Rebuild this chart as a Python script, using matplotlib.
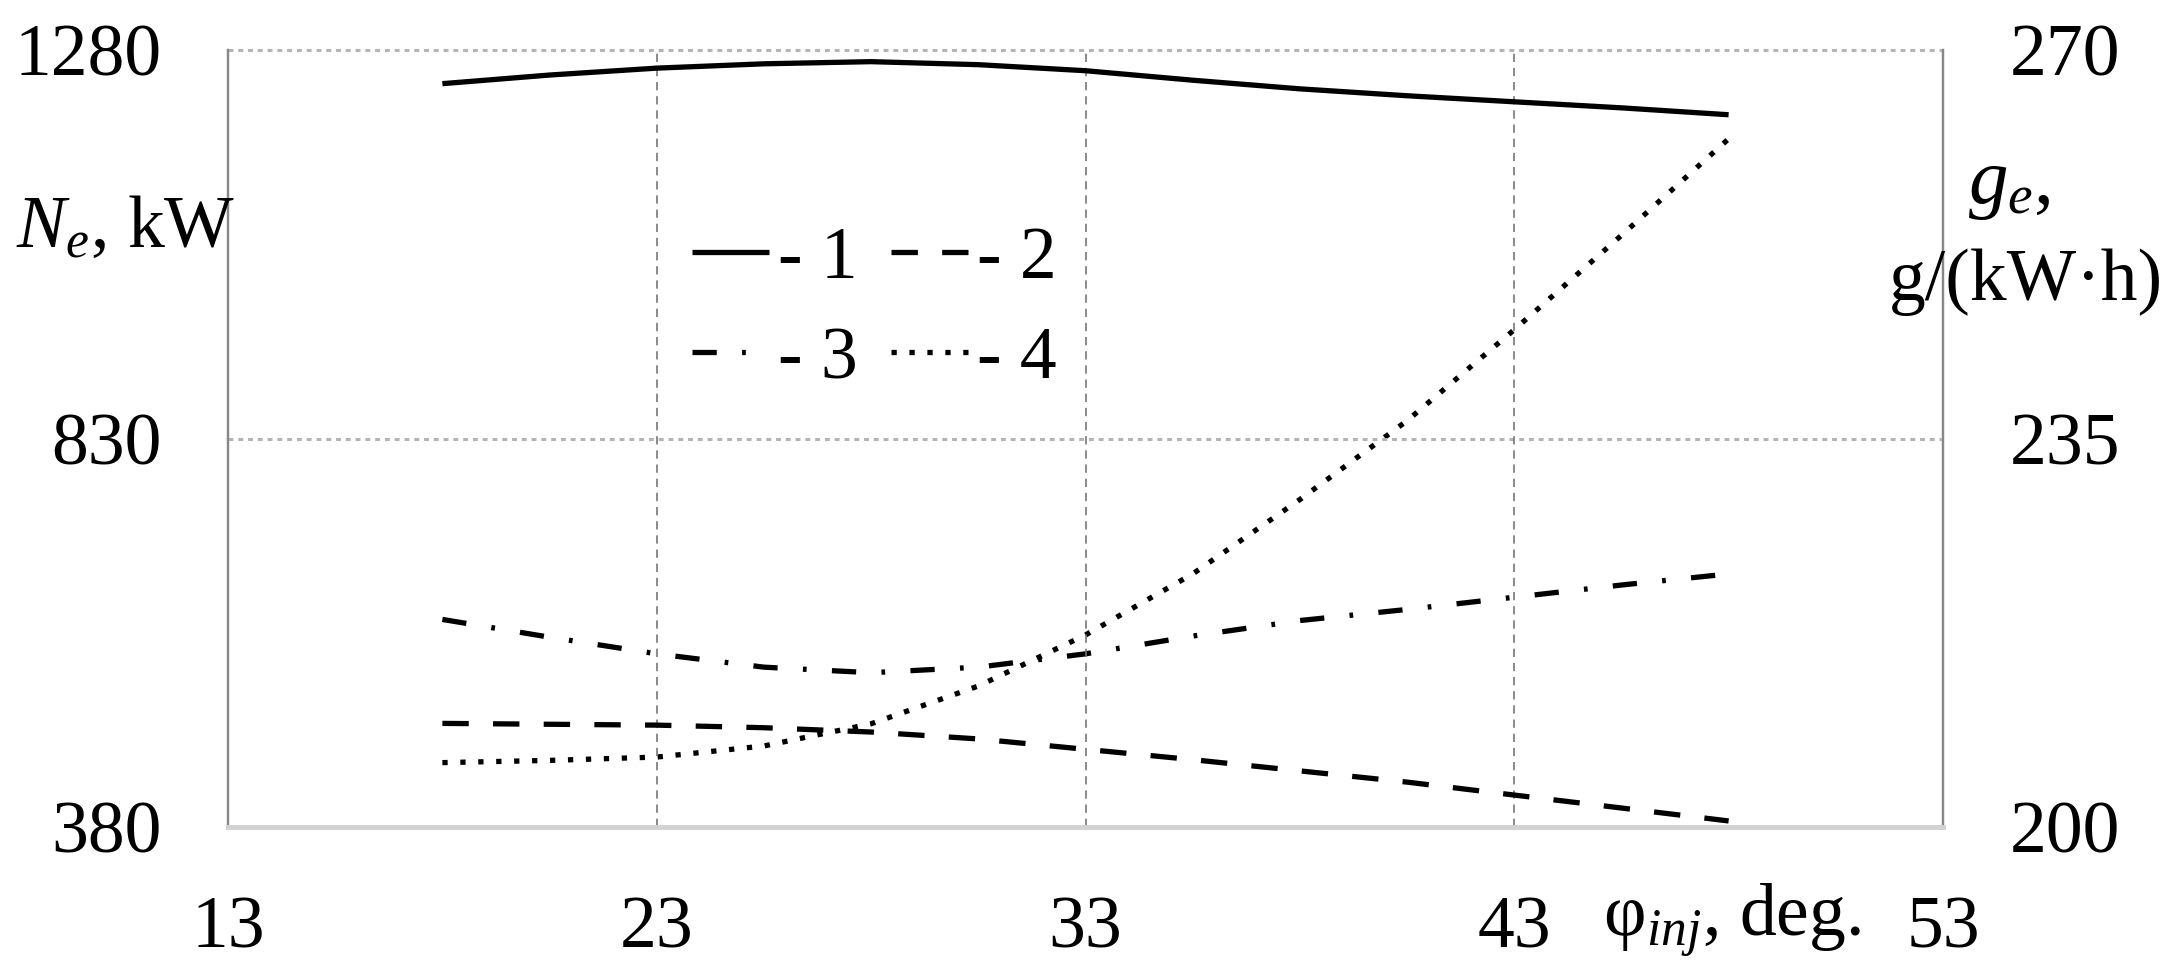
import matplotlib
matplotlib.use("Agg")
import matplotlib.pyplot as plt

# injection advance angle, deg
phi = [18, 20.5, 23, 25.5, 28, 30.5, 33, 35.5, 38, 40.5, 43, 45.5, 48]

# curves 1 and 2 - Ne, kW (left axis)
ne_1 = [1241, 1251, 1259, 1264, 1266.5, 1263, 1256, 1245, 1235, 1227, 1220, 1213, 1205]
ne_2 = [500, 499, 498, 495, 490, 482, 470, 458, 445, 432, 417, 402, 387]

# curves 3 and 4 - ge, g/(kW h) (right axis)
ge_3 = [218.7, 217.1, 215.6, 214.4, 213.9, 214.4, 215.6, 217.2, 218.6, 219.6, 220.7, 221.8, 222.8]
ge_4 = [205.8, 206.0, 206.3, 207.3, 209.3, 212.7, 217.3, 222.8, 229.5, 236.6, 244.8, 253.3, 262.0]

x_ticks = [13, 23, 33, 43, 53]
left_ticks = [380, 830, 1280]
right_ticks = [200, 235, 270]

plt.rcParams['font.family'] = ['Liberation Serif', 'DejaVu Serif']
plt.rcParams['mathtext.fontset'] = 'custom'
plt.rcParams['mathtext.rm'] = 'Liberation Serif'
plt.rcParams['mathtext.it'] = 'Liberation Serif:italic'
fs = 53

W, H = 2173, 976
fig = plt.figure(figsize=(W / 100, H / 100), dpi=100)
ax = fig.add_axes([228 / W, 1 - 827 / H, (1943 - 228) / W, (827 - 50) / H])
ax2 = ax.twinx()

lw = 3.8
l1, = ax.plot(phi, ne_1, color='black', lw=lw, solid_capstyle='butt')
l2, = ax.plot(phi, ne_2, color='black', lw=lw, dashes=(5, 4.6), dash_capstyle='butt')
l3, = ax2.plot(phi, ge_3, color='black', lw=lw, dashes=(4.6, 4.8, 0.7, 4.8), dash_capstyle='butt')
l4, = ax2.plot(phi, ge_4, color='black', lw=lw, dashes=(1.0, 2.4), dash_capstyle='butt')

ax.set_xlim(13, 53)
ax.set_ylim(380, 1280)
ax2.set_ylim(200, 270)
ax.set_xticks(x_ticks)
ax.set_yticks(left_ticks)
ax2.set_yticks(right_ticks)

# grid: dotted horizontal, dashed vertical (no line at the right edge)
for v in left_ticks[1:]:
    ax.axhline(v, color='#b4b4b4', lw=2.2, dashes=(1.6, 1.6), zorder=0, clip_on=False)
for v in x_ticks[1:-1]:
    ax.axvline(v, color='#777777', lw=1.2, dashes=(5, 3.5), zorder=0)

for a in (ax, ax2):
    a.spines['top'].set_visible(False)
    a.spines['left'].set_color('#888888')
    a.spines['right'].set_color('#888888')
    a.spines['left'].set_linewidth(1.6)
    a.spines['right'].set_linewidth(1.6)
    a.spines['bottom'].set_color('#d2d2d2')
    a.spines['bottom'].set_linewidth(3.5)
ax.tick_params(axis='both', length=0, labelsize=fs, pad=48)
ax.tick_params(axis='x', pad=50)
ax2.tick_params(axis='y', length=0, labelsize=fs, pad=48)

fig.text(16 / W, 1 - 247 / H, r'$N_e$, kW', fontsize=fs, ha='left', va='baseline')
fig.text(1968 / W, 1 - 203 / H, r'$g_e$,', fontsize=fs + 4, ha='left', va='baseline')
fig.text(2026 / W, 1 - 300 / H, 'g/(kW·h)', fontsize=fs, ha='center', va='baseline')
fig.text(1732 / W, 1 - 935 / H, r'φ$_{inj}$, deg.', fontsize=fs, ha='center', va='baseline')

# legend filled column-wise, so order gives rows "1 2" and "3 4"
leg = ax.legend([l1, l3, l2, l4], ['- 1', '- 3', '- 2', '- 4'], ncol=2, frameon=False,
                fontsize=fs, handlelength=1.05, handletextpad=0.12, columnspacing=0.45,
                labelspacing=0.45, borderpad=0, borderaxespad=0,
                loc='upper left', bbox_to_anchor=(692 / W, 1 - 226 / H),
                bbox_transform=fig.transFigure)
ax.set_zorder(ax2.get_zorder() + 1)
ax.patch.set_visible(False)

fig.savefig('out.png', dpi=100)
